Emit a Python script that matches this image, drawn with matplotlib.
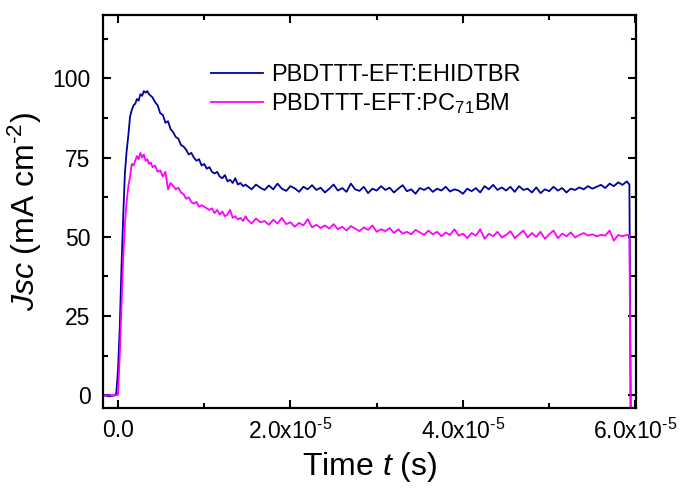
import numpy as np
import matplotlib
matplotlib.use("Agg")
from matplotlib import pyplot as plt
from matplotlib.ticker import MultipleLocator

plt.rcParams['font.family'] = ['Liberation Sans', 'DejaVu Sans']
plt.rcParams['mathtext.fontset'] = 'custom'
plt.rcParams['mathtext.rm'] = 'Liberation Sans'
plt.rcParams['mathtext.it'] = 'Liberation Sans:italic'

# time in units of 1e-5 s
t_early = [-0.17, -0.10, -0.04, -0.02, 0.00, 0.02, 0.04, 0.06, 0.08, 0.10,
           0.12, 0.14, 0.16, 0.18, 0.20, 0.22, 0.24, 0.26, 0.28, 0.30,
           0.32, 0.34, 0.36, 0.38, 0.40, 0.43, 0.46, 0.49, 0.52, 0.55,
           0.58, 0.61, 0.64, 0.67, 0.70, 0.73, 0.76, 0.79, 0.82, 0.85,
           0.88, 0.91, 0.94, 0.97, 1.00, 1.03, 1.06, 1.09, 1.12, 1.15,
           1.18, 1.21, 1.24, 1.27, 1.30, 1.33, 1.36, 1.39, 1.42, 1.45, 1.48]
t_end = [5.93, 5.945]

blue_early = [0.0, -0.3, 0.0, 0.5, 8, 21, 40, 56, 70, 77,
              82, 88, 90, 91.5, 92, 93.5, 93, 95, 94.5, 96,
              95.5, 96, 95, 94.5, 94, 92.5, 91.5, 89, 88.5, 86,
              86.5, 84, 83, 81.5, 81, 79, 78.5, 77.5, 76, 76.5,
              75, 74, 74.5, 72.5, 73, 71.5, 72, 70.5, 70, 70.5,
              69, 68.5, 69.5, 67.5, 68, 67, 68.5, 66.5, 67, 66, 66.5]
pink_early = [0.0, 0.0, 0.0, 0.0, 0.2, 12, 28, 43, 54, 61,
              66, 69, 73, 72.5, 74, 75.5, 74.5, 76.5, 75, 76,
              74, 74.5, 73, 73.5, 72, 72.5, 70.5, 71, 69, 70.5,
              65, 67, 66, 65, 65.5, 64, 63.5, 62, 62.5, 61,
              60.5, 61, 59.5, 60, 59.5, 59, 58.5, 59, 57.5, 58.5,
              57, 58, 56.5, 57, 58.5, 56, 56.5, 55.5, 56, 55, 56.5]

# plateau sampled every 0.05 (x1e-5 s) from 1.50 to 5.90
blue_plateau = [66.0, 65.0, 66.5, 65.5, 64.8, 66.2, 65.0, 66.8, 65.2, 64.5,
                66.0, 65.3, 64.2, 65.8, 65.0, 66.3, 64.8, 65.5, 64.0, 65.2,
                66.5, 64.6, 65.4, 64.2, 66.8, 65.0, 64.5, 65.8, 63.8, 65.2,
                64.6, 66.0, 64.8, 65.5, 64.0, 65.2, 66.3, 64.4, 65.0, 63.6,
                65.4, 64.8, 65.6, 64.2, 65.2, 64.6, 65.8, 64.3, 65.0, 64.6,
                63.6, 65.2, 64.4, 65.4, 64.0, 66.0, 65.0, 66.4, 64.8, 65.6,
                64.6, 65.8, 64.2, 66.0, 64.8, 65.2, 64.0, 65.6, 63.8, 65.0,
                64.4, 65.8, 64.6, 65.4, 64.0, 65.2, 64.8, 65.6, 65.0, 66.0,
                65.2, 65.8, 66.4, 65.4, 66.8, 66.0, 67.2, 66.4, 67.5]
pink_plateau = [55.5, 54.2, 55.8, 54.6, 55.0, 53.8, 55.4, 54.2, 56.0, 54.0,
                54.6, 53.2, 54.4, 53.6, 55.6, 53.0, 53.8, 52.8, 53.6, 52.6,
                54.0, 52.4, 53.2, 52.0, 53.4, 52.6, 51.8, 53.0, 52.2, 53.6,
                51.6, 52.4, 51.8, 52.8, 51.2, 52.4, 51.0, 51.6, 50.8, 52.2,
                51.4, 50.6, 52.0, 50.8, 51.6, 50.2, 51.4, 50.6, 52.4, 50.4,
                51.0, 49.6, 51.2, 50.4, 52.4, 49.4, 51.0, 50.2, 51.6, 49.8,
                50.6, 51.8, 49.6, 50.8, 52.0, 49.8, 51.2, 50.0, 51.6, 49.4,
                50.8, 52.0, 49.6, 51.0, 50.2, 51.4, 49.8, 50.6, 51.2, 50.4,
                50.8, 50.2, 50.6, 50.4, 52.0, 48.8, 50.6, 50.2, 50.6]

blue_end = [66.5, -6]
pink_end = [50.5, -6]

t_plateau = 1.50 + 0.05 * np.arange(len(blue_plateau))
t = np.concatenate([t_early, t_plateau, t_end]) * 1e-5
blue = np.concatenate([blue_early, blue_plateau, blue_end])
pink = np.concatenate([pink_early, pink_plateau, pink_end])

fig = plt.figure(figsize=(6.82, 5.0), dpi=100)
ax = fig.add_axes([0.151, 0.184, 0.782, 0.786])

ax.plot(t, blue, color='#00009c', lw=1.3, label='PBDTTT-EFT:EHIDTBR')
ax.plot(t, pink, color='#ff00ff', lw=1.3, label='PBDTTT-EFT:PC$_{71}$BM')

ax.set_xlim(-1.74e-6, 6.01e-5)
ax.set_ylim(-4, 120)

ax.set_xticks([0, 2e-5, 4e-5, 6e-5])
ax.set_xticklabels(['0.0', '2.0x10$^{\\text{-}5}$', '4.0x10$^{\\text{-}5}$',
                    '6.0x10$^{\\text{-}5}$'])
ax.xaxis.set_minor_locator(MultipleLocator(1e-5))
ax.set_yticks([0, 25, 50, 75, 100])
ax.yaxis.set_minor_locator(MultipleLocator(12.5))

ax.tick_params(which='both', direction='in', top=True, right=True,
               width=1.5, labelsize=16.5)
ax.tick_params(which='major', length=6)
ax.tick_params(which='minor', length=3.5)
ax.tick_params(axis='x', pad=8)
ax.tick_params(axis='y', pad=9)
for s in ax.spines.values():
    s.set_linewidth(1.6)

ax.set_xlabel('Time $\\it{t}$ (s)', fontsize=23, labelpad=4)
ax.set_ylabel('$\\it{Jsc}$ (mA cm$^{\\text{-}2}$)', fontsize=23, labelpad=6)

ax.legend(loc='upper left', bbox_to_anchor=(0.18, 0.905), frameon=False,
          fontsize=17, handlelength=2.2, handletextpad=0.35,
          labelspacing=0.2, borderpad=0)

plt.savefig("out.png", dpi=100)
